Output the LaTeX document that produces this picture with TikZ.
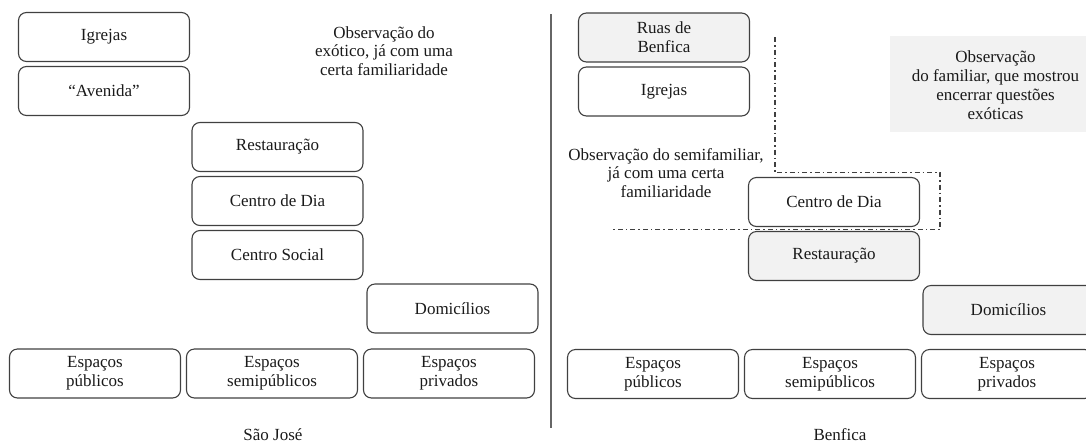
\documentclass[tikz,border=0pt]{standalone}
\usepackage{fontspec}
\setmainfont{Liberation Serif}
\usetikzlibrary{
		calc,
		positioning
	}
\tikzset{
		>=stealth
	}
\definecolor{boxgray}{HTML}{F2F2F2}
\definecolor{linegray}{HTML}{404040}
\definecolor{txt}{HTML}{1A1A1A}

\begin{document}
\begin{tikzpicture}[x=1pt, y=-1pt,
		every node/.style={font=\fontsize{17}{18.8}\selectfont, text=txt},
		place/.style={draw=linegray, line width=1.1pt, rounded corners=8pt, align=center, minimum width=171pt, minimum height=49pt, inner sep=2pt, outer sep=0pt},
		shaded/.style={place, fill=boxgray},
		note/.style={align=center, inner sep=0pt},
		sep/.style={draw=linegray!80, line width=1.6pt},
		zone/.style={draw=linegray, line width=1.1pt, dash pattern=on 5pt off 3pt on 1.5pt off 3pt}]
		\useasboundingbox (0,0) rectangle (1086,445);
		\clip (0,0) rectangle (1086,445);
		% Sao Jose
		\node[place] (igA) at (104,37) {Igrejas};
		\node[place, below=5pt of igA] (avA) {``Avenida''};
		\node[place] (restA) at (277.5,147) {Restaura\c{c}\~ao};
		\node[place, below=5pt of restA] (diaA) {Centro de Dia};
		\node[place, below=5pt of diaA] (socA) {Centro Social};
		\node[place] (domA) at (452.5,308.5) {Domic\'ilios};
		\node[place] (pubA) at (95,373.5) {Espa\c{c}os\\p\'ublicos};
		\node[place, right=6pt of pubA] (semiA) {Espa\c{c}os\\semip\'ublicos};
		\node[place, right=6pt of semiA] (privA) {Espa\c{c}os\\privados};
		\node[note] (obsA) at (384,51) {Observa\c{c}\~ao do\\ex\'otico, j\'a com uma\\certa familiaridade};
		\node[note] (capA) at (273,435) {S\~ao Jos\'e};
		% divider
		\coordinate (sepT) at (551,14);
		\coordinate (sepB) at (551,428);
		\draw[sep] (sepT) -- (sepB);
		% Benfica
		\fill[boxgray] (890,36) rectangle (1101,132);
		\node[note] (obsC) at (995.5,85) {Observa\c{c}\~ao\\do familiar, que mostrou\\encerrar quest\~oes\\ex\'oticas};
		\node[shaded] (ruasB) at (664,37.5) {Ruas de\\Benfica};
		\node[place, below=5pt of ruasB] (igB) {Igrejas};
		\node[place] (diaB) at (834,202) {Centro de Dia};
		\node[shaded, below=5pt of diaB] (restB) {Restaura\c{c}\~ao};
		\node[shaded] (domB) at (1008.5,310) {Domic\'ilios};
		\node[place] (pubB) at (653,374) {Espa\c{c}os\\p\'ublicos};
		\node[place, right=6pt of pubB] (semiB) {Espa\c{c}os\\semip\'ublicos};
		\node[place, right=6pt of semiB] (privB) {Espa\c{c}os\\privados};
		\node[note] (obsB) at (666,173) {Observa\c{c}\~ao do semifamiliar,\\j\'a com uma certa\\familiaridade};
		\node[note] (capB) at (840,435) {Benfica};
		% zone of the semifamiliar
		\coordinate (z1) at (775,37);
		\coordinate (z2) at (775,172.5);
		\coordinate (z3) at (940,172.5);
		\coordinate (z4) at (940,229.5);
		\coordinate (z5) at (612,229.5);
		\draw[zone] (z1) -- (z2) -- (z3) -- (z4) -- (z5);
	\end{tikzpicture}
\end{document}
